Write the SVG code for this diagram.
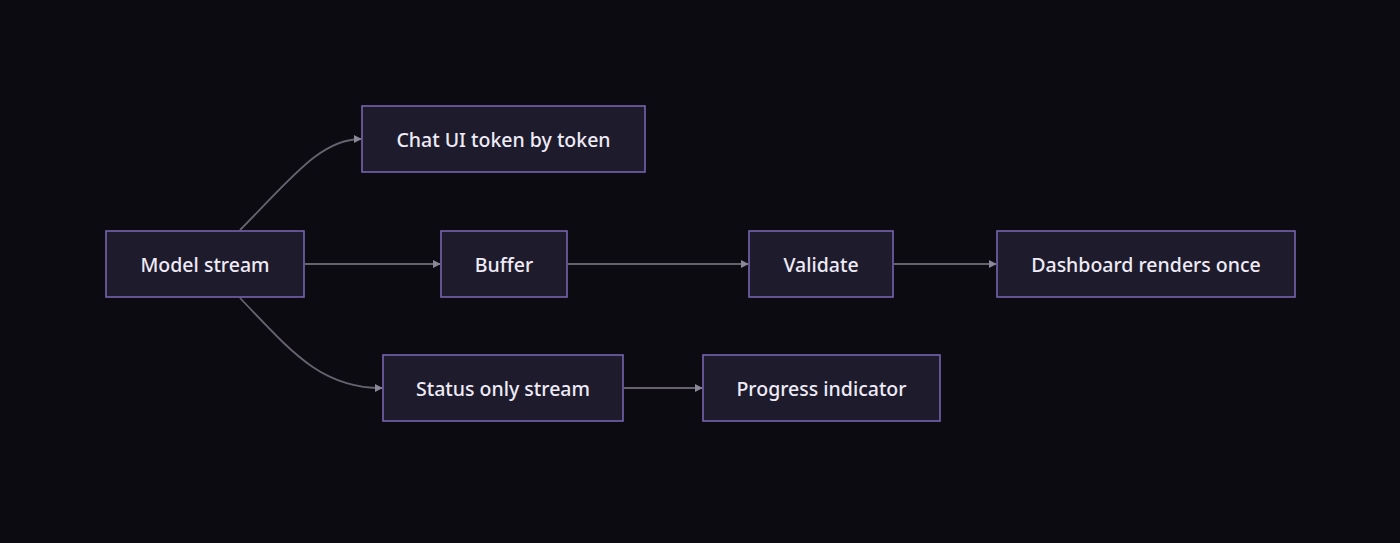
<svg xmlns="http://www.w3.org/2000/svg" width="1400" height="543" viewBox="0 0 1400 543">
  <style>
    .node rect { fill: #1e1b2d; stroke: #7565b0; stroke-width: 1.6; }
    .node text { fill: #eeebf6; font-family: "Noto Sans", "Open Sans", "DejaVu Sans", sans-serif; font-size: 19.5px; font-weight: 500; text-anchor: middle; dominant-baseline: central; }
    .edge { fill: none; stroke: #66636f; stroke-width: 1.8; marker-end: url(#arrow); }
  </style>
  <defs>
    <marker id="arrow" viewBox="0 0 10 10" refX="9" refY="5" markerWidth="8" markerHeight="8" markerUnits="userSpaceOnUse" orient="auto">
      <path d="M0,0 L10,5 L0,10 z" fill="#8a8796"/>
    </marker>
  </defs>
  <rect x="0" y="0" width="1400" height="543" fill="#0c0b11"/>

  <g id="connectors">
    <path class="edge" d="M240,230 C290,180 320,139 361,139"/>
    <path class="edge" d="M305,264 L440,264"/>
    <path class="edge" d="M568,264 L748,264"/>
    <path class="edge" d="M894,264 L996,264"/>
    <path class="edge" d="M240,298 C290,350 320,388 382,388"/>
    <path class="edge" d="M624,388 L702,388"/>
  </g>

  <g id="model-stream" class="node">
    <rect x="106" y="231" width="198" height="66"/>
    <text x="205" y="264">Model stream</text>
  </g>
  <g id="chat-ui" class="node">
    <rect x="362" y="106" width="283" height="66"/>
    <text x="503.5" y="139">Chat UI token by token</text>
  </g>
  <g id="buffer" class="node">
    <rect x="441" y="231" width="126" height="66"/>
    <text x="504" y="264">Buffer</text>
  </g>
  <g id="validate" class="node">
    <rect x="749" y="231" width="144" height="66"/>
    <text x="821" y="264">Validate</text>
  </g>
  <g id="dashboard" class="node">
    <rect x="997" y="231" width="298" height="66"/>
    <text x="1146" y="264">Dashboard renders once</text>
  </g>
  <g id="status-stream" class="node">
    <rect x="383" y="355" width="240" height="66"/>
    <text x="503" y="388">Status only stream</text>
  </g>
  <g id="progress" class="node">
    <rect x="703" y="355" width="237" height="66"/>
    <text x="821.5" y="388">Progress indicator</text>
  </g>
</svg>
